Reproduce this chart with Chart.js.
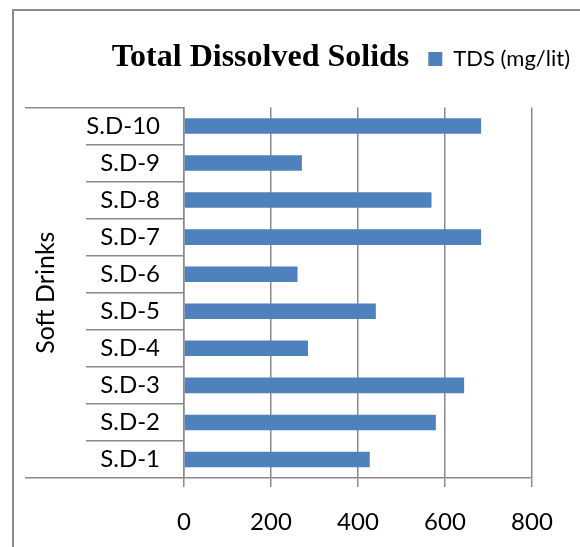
<!DOCTYPE html>
<html lang="en">
<head>
    <meta charset="UTF-8">
    <script src="https://cdn.jsdelivr.net/npm/chart.js"></script>
    <title>Total Dissolved Solids</title>
    <style>
        body {
            margin: 0;
            padding: 0;
            background: #fff;
            overflow: hidden;
        }

        /* Excel chart frame: only left and top edges are in view */
        .frame {
            position: absolute;
            left: 12px;
            top: 9px;
            width: 600px;
            height: 560px;
            border-left: 2px solid #8c8c8c;
            border-top: 2px solid #8c8c8c;
        }

        .chart-box {
            position: absolute;
            left: 0;
            top: 0;
            width: 580px;
            height: 547px;
        }
    </style>
</head>
<body>
    <div class="frame"></div>
    <div class="chart-box">
        <canvas id="tdsChart"></canvas>
    </div>
    <script>
        const categories = ['S.D-1', 'S.D-2', 'S.D-3', 'S.D-4', 'S.D-5', 'S.D-6', 'S.D-7', 'S.D-8', 'S.D-9', 'S.D-10'];
        const tdsValues = [427, 579, 644, 285, 441, 261, 683, 569, 271, 683];
        const xTicks = [0, 200, 400, 600, 800];

        const gridGray = '#8a8a8a';
        const labelFont = { family: 'Lato', size: 24 };

        // Excel-like category table: outer lines run further left than inner ones.
        // Tick lines are stroked from the far end towards the axis, so the inner
        // ones start with a gap (via dash offset) and end on the axis.
        const outerTick = 159;
        const innerTick = 98;

        const config = {
            type: 'bar',
            data: {
                labels: categories,
                datasets: [{
                    label: 'TDS (mg/lit)',
                    data: tdsValues,
                    backgroundColor: '#4f81bd',
                    borderWidth: 0,
                    categoryPercentage: 1,
                    barPercentage: 0.42
                }]
            },
            options: {
                indexAxis: 'y',
                responsive: true,
                maintainAspectRatio: false,
                animation: false,
                layout: {
                    padding: { left: -59, top: 38, right: 0, bottom: 0 }
                },
                plugins: {
                    legend: {
                        position: 'top',
                        align: 'end',
                        weight: 3000,
                        labels: {
                            boxWidth: 14,
                            boxHeight: 14,
                            padding: 10,
                            color: '#000',
                            font: { family: 'Lato', size: 22 }
                        }
                    },
                    title: {
                        display: true,
                        text: 'Total Dissolved Solids',
                        align: 'center',
                        weight: 500,
                        color: '#000',
                        font: { family: 'Liberation Serif', size: 32, weight: 'bold' },
                        padding: { top: -41, bottom: 30 }
                    },
                    tooltip: { enabled: false }
                },
                scales: {
                    x: {
                        min: 0,
                        max: 800,
                        afterBuildTicks: s => { s.ticks = xTicks.map(v => ({ value: v })); },
                        afterFit: s => { s.height = 69; },
                        grid: {
                            color: gridGray,
                            lineWidth: 1.5,
                            tickLength: 9
                        },
                        border: { color: gridGray, width: 1.5 },
                        ticks: {
                            color: '#000',
                            font: labelFont,
                            padding: 21
                        }
                    },
                    y: {
                        reverse: true,
                        afterFit: s => { s.width = 243; },
                        grid: {
                            offset: true,
                            drawOnChartArea: false,
                            color: gridGray,
                            lineWidth: 1.5,
                            tickLength: outerTick,
                            tickBorderDash: c => (c.index > 0 ? [innerTick, outerTick - innerTick] : []),
                            tickBorderDashOffset: c => (c.index > 0 ? innerTick : 0)
                        },
                        border: { color: gridGray, width: 1.5 },
                        ticks: {
                            color: '#000',
                            font: labelFont,
                            padding: -135
                        },
                        title: {
                            display: true,
                            text: 'Soft Drinks',
                            color: '#000',
                            font: { family: 'Lato', size: 25 },
                            padding: { top: 90 }
                        }
                    },
                    right: {
                        type: 'linear',
                        position: 'right',
                        grid: { display: false },
                        border: { display: false },
                        ticks: { display: false },
                        afterFit: s => { s.width = 48; }
                    }
                }
            }
        };

        const ctx = document.getElementById('tdsChart').getContext('2d');
        const tdsChart = new Chart(ctx, config);
    </script>
</body>
</html>
